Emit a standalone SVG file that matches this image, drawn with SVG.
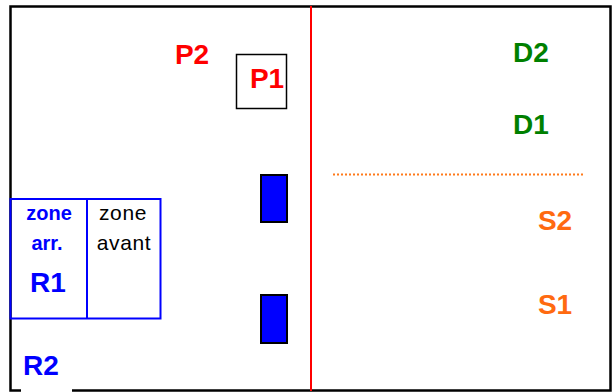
<svg xmlns="http://www.w3.org/2000/svg" width="615" height="392" viewBox="0 0 615 392">
<style>
  .lbl { font-family: "Liberation Sans", Arial, sans-serif; font-weight: bold; text-anchor: middle; }
  .big { font-size: 28px; }
  .red { fill: #ff0000; }
  .green { fill: #008000; }
  .orange { fill: #ff6a10; }
  .blue { fill: #0000ff; }
  .block { fill: #0000ff; stroke: #000; stroke-width: 2; }
</style>
<rect width="615" height="392" fill="#fff"/>
<g id="frame">
  <rect x="10.5" y="6.5" width="600" height="384" fill="none" stroke="#000" stroke-width="2.5"/>
  <rect x="21" y="388" width="51" height="4" fill="#fff"/>
</g>
<g id="connectors">
  <line x1="311" y1="6" x2="311" y2="391" stroke="#ff0000" stroke-width="2"/>
  <line x1="333" y1="174.5" x2="584" y2="174.5" stroke="#ff7a1a" stroke-width="2" stroke-dasharray="2,2"/>
</g>
<g id="P2"><text class="lbl big red" x="192" y="64">P2</text></g>
<g id="P1">
  <rect x="236.5" y="54.5" width="50" height="54" fill="#fff" stroke="#000" stroke-width="1.5"/>
  <text class="lbl big red" x="267" y="88">P1</text>
</g>
<g id="block1"><rect class="block" x="261" y="175" width="26" height="47"/></g>
<g id="block2"><rect class="block" x="261" y="295" width="26" height="48"/></g>
<g id="R1">
  <rect x="10.5" y="199" width="150" height="119.5" fill="none" stroke="#0000ff" stroke-width="2"/>
  <line x1="87" y1="199" x2="87" y2="318.5" stroke="#0000ff" stroke-width="2"/>
  <text class="lbl blue" x="49" y="220" font-size="20">zone</text>
  <text class="lbl blue" x="47" y="250" font-size="20">arr.</text>
  <text class="lbl blue big" x="48" y="292">R1</text>
  <text x="123" y="220" font-family="Liberation Sans, Arial, sans-serif" font-size="21" letter-spacing="0.6" text-anchor="middle" fill="#000">zone</text>
  <text x="124" y="250" font-family="Liberation Sans, Arial, sans-serif" font-size="21" letter-spacing="0.6" text-anchor="middle" fill="#000">avant</text>
</g>
<g id="R2"><text class="lbl blue big" x="41" y="375">R2</text></g>
<g id="D2"><text class="lbl big green" x="531" y="62">D2</text></g>
<g id="D1"><text class="lbl big green" x="531" y="134">D1</text></g>
<g id="S2"><text class="lbl big orange" x="555" y="230">S2</text></g>
<g id="S1"><text class="lbl big orange" x="555" y="314">S1</text></g>
</svg>
